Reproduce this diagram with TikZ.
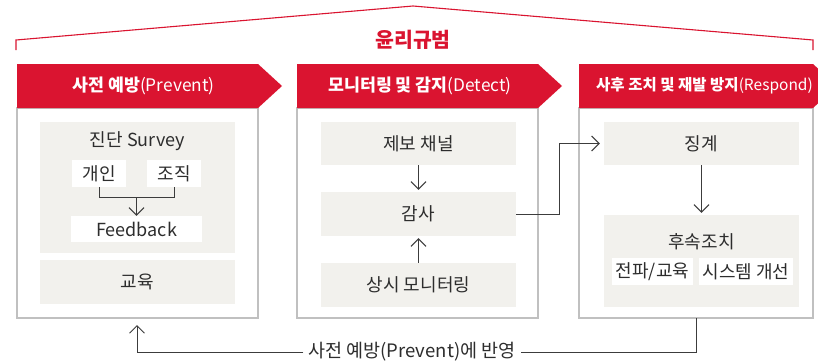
\documentclass[tikz,border=0pt]{standalone}
\usepackage{fontspec}
\setmainfont{Noto Sans CJK KR}
\usetikzlibrary{arrows.meta}
\definecolor{ered}{RGB}{218,20,48}
\definecolor{efill}{RGB}{242,241,237}
\definecolor{eline}{RGB}{192,192,192}
\definecolor{econ}{RGB}{60,60,60}
\definecolor{etext}{RGB}{45,45,45}
\tikzset{
  colbox/.style={draw=eline,line width=1.3pt,fill=white,inner sep=0pt,minimum height=210pt},
  graybox/.style={fill=efill,inner sep=0pt,text=etext,font=\fontsize{18}{20}\selectfont},
  whitebox/.style={fill=white,inner sep=0pt,text=etext,font=\fontsize{18}{20}\selectfont},
  plaintext/.style={inner sep=0pt,text=etext,font=\fontsize{18}{20}\selectfont},
  headtext/.style={inner sep=0pt,text=white,font=\fontsize{17.3}{20}\selectfont},
  conn/.style={draw=econ,line width=1pt},
  arr/.style={conn,-{Straight Barb[length=7.5pt,width=15pt,line width=1pt]}},
}
\begin{document}
\begin{tikzpicture}[x=1pt,y=-1pt]
\useasboundingbox (0,0) rectangle (818,362);
\clip (0,0) rectangle (818,362);
\fill[white] (0,0) rectangle (818,362);
% top bracket
\draw[ered,line width=1.1pt] (16,50) -- (16,40) -- (413,6) -- (813,40) -- (813,50);
\node[inner sep=0pt,text=ered,font=\fontsize{20.5}{22}\bfseries] (title) at (413,40) {윤리규범};
% column bodies
\node[colbox,minimum width=241pt] (col1) at (137.5,213) {};
\node[colbox,minimum width=241pt] (col2) at (417.5,213) {};
\node[colbox,minimum width=234pt] (col3) at (696,213) {};
% headers
\fill[ered] (17,64) -- (258,64) -- (282,86) -- (258,108) -- (17,108) -- cycle;
\fill[ered] (297,64) -- (538,64) -- (562,86) -- (538,108) -- (297,108) -- cycle;
\fill[ered] (579,64) -- (813,64) -- (837,86) -- (813,108) -- (579,108) -- cycle;
\node[headtext] (h1) at (143.5,86) {\textbf{사전 예방}(Prevent)};
\node[headtext] (h2) at (420,86) {\textbf{모니터링 및 감지}(Detect)};
\node[headtext,font=\fontsize{15.5}{18}\selectfont] (h3) at (704.5,86) {\textbf{사후 조치 및 재발 방지}(Respond)};
% column 1
\node[graybox,minimum width=195pt,minimum height=131pt] (survey) at (137.5,187.5) {};
\node[plaintext] (surveyt) at (137.5,141) {진단 Survey};
\node[whitebox,minimum width=54pt,minimum height=27pt] (gaein) at (99,173.5) {개인};
\node[whitebox,minimum width=54pt,minimum height=27pt] (jojik) at (174,173.5) {조직};
\node[whitebox,minimum width=131pt,minimum height=26pt] (feedback) at (136.5,229) {Feedback};
\node[graybox,minimum width=195pt,minimum height=44pt] (edu) at (137.5,282) {교육};
\coordinate (join) at (136.5,197);
\draw[conn] (gaein.south) -- (gaein.south |- join) -- (jojik.south |- join) -- (jojik.south);
\draw[arr] (join) -- (feedback.north);
% column 2
\node[graybox,minimum width=195pt,minimum height=43pt] (jebo) at (418.5,143.5) {제보 채널};
\node[graybox,minimum width=195pt,minimum height=44pt] (gamsa) at (418.5,214) {감사};
\node[graybox,minimum width=195pt,minimum height=44pt] (sangsi) at (418.5,285) {상시 모니터링};
\draw[arr,shorten >=2pt] (jebo.south) -- (gamsa.north);
\draw[arr,shorten >=2pt] (sangsi.north) -- (gamsa.south);
% column 3
\node[graybox,minimum width=195pt,minimum height=43pt] (jingye) at (701.5,143.5) {징계};
\node[graybox,minimum width=195pt,minimum height=92pt] (husok) at (701.5,261) {};
\node[plaintext] (husokt) at (701.5,242) {후속조치};
\node[whitebox,minimum width=81pt,minimum height=27pt] (jeonpa) at (652.5,271.5) {전파/교육};
\node[whitebox,minimum width=94pt,minimum height=27pt] (system) at (746,271.5) {시스템 개선};
\draw[arr,shorten >=2pt] (jingye.south) -- (husok.north);
% 감사 -> 징계
\coordinate (bend) at (559,214);
\draw[arr,shorten >=4pt] (gamsa.east) -- (bend) -- (bend |- jingye.west) -- (jingye.west);
% feedback loop
\node[plaintext,font=\fontsize{18.5}{20}\selectfont] (loop) at (412,352) {사전 예방(Prevent)에 반영};
\coordinate (lr) at (696,318);
\coordinate (ll) at (137,318);
\draw[conn] (lr) -- (lr |- loop.east) -- ([xshift=5pt]loop.east);
\draw[arr,shorten >=7pt] ([xshift=-5pt]loop.west) -- (ll |- loop.west) -- (ll);
\end{tikzpicture}
\end{document}
